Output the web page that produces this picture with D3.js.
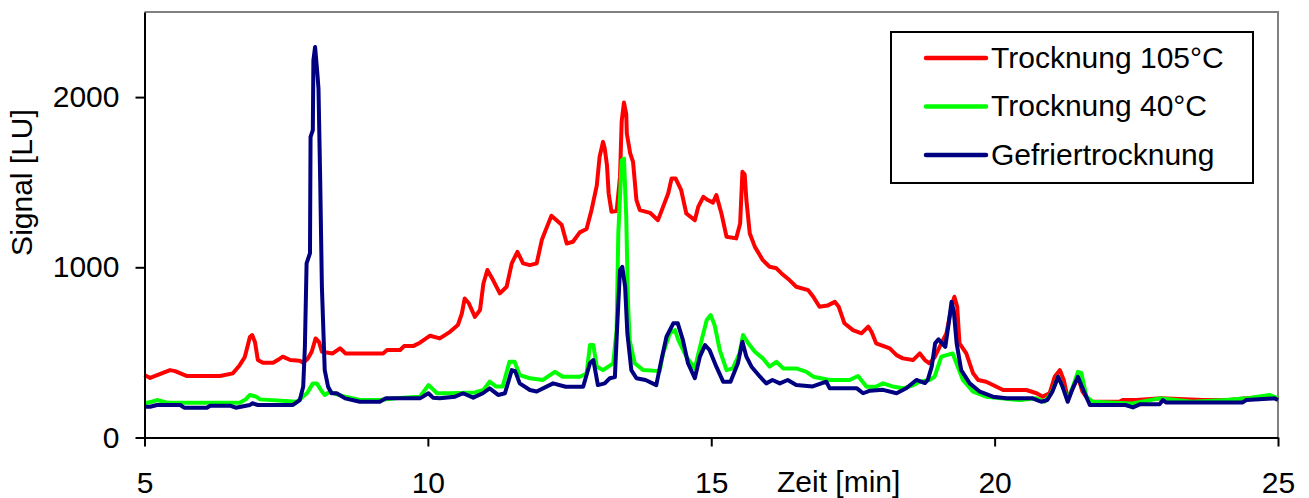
<html>
<head>
    <meta charset="UTF-8">
    <title>Signal</title>
    <style>
        body { margin: 0; background: #fff; }
        text { font-family: "Liberation Sans", Arial, sans-serif; }
    </style>
</head>
<body>
<script src="https://d3js.org/d3.v7.min.js"></script>
<div id="chart"></div>
<script>
    // series: [Zeit in min, Signal in LU]
    var trocknung105 = [
        [5.0,367],[5.10,350],[5.45,396],[5.54,390],[5.75,361],[6.33,361],[6.56,377],[6.68,425],
        [6.77,473],[6.86,590],[6.90,602],[6.95,560],[7.00,455],[7.09,439],[7.27,439],[7.35,455],
        [7.44,475],[7.57,455],[7.74,451],[7.80,439],[7.88,463],[7.95,504],[8.02,582],[8.08,560],
        [8.13,504],[8.32,494],[8.45,524],[8.55,494],[9.21,494],[9.28,514],[9.51,514],[9.58,537],
        [9.74,537],[9.86,557],[10.04,598],[10.21,582],[10.39,621],[10.53,661],[10.60,729],[10.65,817],
        [10.72,790],[10.83,709],[10.92,749],[10.98,905],[11.05,984],[11.15,925],[11.27,847],[11.39,886],
        [11.48,1023],[11.58,1091],[11.68,1023],[11.80,1013],[11.92,1023],[12.01,1160],[12.08,1220],[12.18,1303],
        [12.26,1280],[12.36,1250],[12.45,1140],[12.56,1150],[12.68,1205],[12.80,1225],[12.89,1340],[12.98,1480],
        [13.03,1649],[13.09,1737],[13.12,1700],[13.16,1600],[13.19,1434],[13.24,1326],[13.33,1330],[13.39,1531],
        [13.42,1860],[13.46,1968],[13.50,1900],[13.51,1786],[13.57,1669],[13.62,1620],[13.68,1395],[13.74,1336],
        [13.92,1320],[14.06,1277],[14.15,1355],[14.24,1434],[14.30,1522],[14.37,1522],[14.47,1453],[14.56,1316],
        [14.71,1277],[14.77,1355],[14.86,1414],[14.94,1395],[15.03,1380],[15.09,1424],[15.18,1316],[15.27,1179],
        [15.44,1170],[15.51,1258],[15.55,1561],[15.59,1545],[15.62,1395],[15.68,1199],[15.77,1120],[15.91,1042],
        [16.03,1003],[16.15,994],[16.24,964],[16.38,925],[16.50,886],[16.71,866],[16.80,827],[16.91,768],
        [17.05,775],[17.18,797],[17.25,768],[17.35,671],[17.50,631],[17.65,612],[17.77,651],[17.83,620],
        [17.91,553],[18.15,524],[18.27,484],[18.38,465],[18.56,455],[18.68,494],[18.77,455],[18.85,436],
        [18.94,470],[19.06,553],[19.15,612],[19.24,768],[19.29,827],[19.34,768],[19.38,553],[19.50,494],
        [19.62,377],[19.71,338],[19.85,328],[19.97,308],[20.15,279],[20.56,279],[20.74,260],[20.85,240],
        [20.97,260],[21.06,357],[21.15,396],[21.22,338],[21.29,230],[21.38,290],[21.47,357],[21.55,270],
        [21.68,210],[22.20,210],[22.26,220],[22.50,220],[22.94,230],[23.67,220],[24.14,220],[24.44,230],
        [24.85,240],[25.0,230]
    ];
    var trocknung40 = [
        [5.0,201],[5.13,210],[5.22,220],[5.40,204],[6.68,204],[6.79,225],[6.86,250],[6.97,240],
        [7.04,224],[7.69,210],[7.87,261],[7.97,318],[8.04,318],[8.13,270],[8.18,250],[8.27,269],
        [8.38,255],[8.54,240],[8.80,220],[9.15,220],[9.42,231],[9.86,240],[10.01,308],[10.07,290],
        [10.16,260],[10.39,260],[10.83,265],[10.98,279],[11.09,328],[11.20,300],[11.32,300],[11.44,445],
        [11.53,445],[11.62,367],[11.80,348],[12.03,338],[12.24,386],[12.38,357],[12.68,357],[12.80,375],
        [12.86,543],[12.92,543],[12.98,416],[13.09,396],[13.27,436],[13.33,631],[13.36,1199],[13.42,1629],
        [13.46,1639],[13.50,1297],[13.53,807],[13.56,572],[13.65,436],[13.80,396],[14.09,390],[14.15,494],
        [14.27,612],[14.36,631],[14.42,572],[14.56,475],[14.71,406],[14.83,572],[14.92,690],[14.99,719],
        [15.06,660],[15.15,514],[15.27,396],[15.38,406],[15.50,494],[15.56,602],[15.64,560],[15.77,504],
        [15.91,465],[16.03,416],[16.15,445],[16.27,406],[16.50,406],[16.68,386],[16.80,357],[17.09,338],
        [17.44,338],[17.59,361],[17.74,298],[17.90,298],[18.03,318],[18.20,300],[18.38,289],[18.55,305],
        [18.68,328],[18.85,338],[18.94,357],[19.06,475],[19.26,494],[19.35,416],[19.44,338],[19.62,269],
        [19.85,240],[20.44,220],[20.74,230],[20.88,210],[21.00,260],[21.12,357],[21.20,298],[21.29,220],
        [21.38,298],[21.47,386],[21.53,380],[21.62,240],[21.73,210],[22.43,200],[22.91,230],[23.49,210],
        [24.07,220],[24.44,230],[24.85,250],[25.0,230]
    ];
    var gefriertrocknung = [
        [5.0,181],[5.10,181],[5.22,191],[5.63,191],[5.70,175],[6.10,175],[6.16,187],[6.51,187],
        [6.61,175],[6.86,191],[6.90,201],[7.00,191],[7.62,191],[7.74,220],[7.80,298],[7.83,533],
        [7.86,1023],[7.92,1083],[7.93,1766],[7.97,1806],[7.98,2217],[8.01,2295],[8.05,2139],[8.07,2050],
        [8.10,1512],[8.13,886],[8.18,396],[8.24,298],[8.30,260],[8.39,260],[8.54,230],[8.80,210],
        [9.15,210],[9.26,230],[9.86,230],[10.01,260],[10.09,234],[10.21,230],[10.48,240],[10.62,260],
        [10.80,234],[10.97,260],[11.09,289],[11.24,250],[11.36,260],[11.48,396],[11.54,390],[11.62,318],
        [11.80,279],[11.92,270],[12.21,318],[12.43,298],[12.74,298],[12.86,436],[12.92,455],[13.00,308],
        [13.12,318],[13.21,348],[13.30,355],[13.34,651],[13.39,984],[13.43,1003],[13.48,886],[13.52,612],
        [13.59,396],[13.68,348],[13.84,338],[14.03,308],[14.12,455],[14.21,592],[14.33,671],[14.41,671],
        [14.50,572],[14.59,436],[14.71,348],[14.80,475],[14.89,543],[14.97,514],[15.09,416],[15.21,328],
        [15.34,328],[15.47,436],[15.55,563],[15.62,475],[15.71,416],[15.86,357],[15.97,318],[16.08,338],
        [16.21,318],[16.35,338],[16.50,308],[16.79,300],[17.03,328],[17.09,289],[17.57,289],[17.68,260],
        [17.80,275],[18.03,280],[18.27,260],[18.44,289],[18.62,338],[18.77,320],[18.82,338],[18.89,416],
        [18.95,553],[19.01,577],[19.13,533],[19.19,671],[19.24,797],[19.28,740],[19.33,553],[19.41,396],
        [19.56,318],[19.74,269],[19.97,240],[20.21,230],[20.67,230],[20.82,210],[20.93,220],[21.02,270],
        [21.12,357],[21.20,298],[21.29,210],[21.38,290],[21.47,357],[21.55,290],[21.68,191],[22.31,191],
        [22.44,177],[22.56,195],[22.91,195],[22.97,220],[23.03,205],[24.37,205],[24.44,220],[24.94,230],
        [25.0,220]
    ];

    var seriesNames = ["Trocknung 105°C", "Trocknung 40°C", "Gefriertrocknung"];
    var seriesColors = ["#ff0000", "#00ff00", "#000080"];
    var seriesData = [trocknung105, trocknung40, gefriertrocknung];

    var xTicks = [5, 10, 15, 20, 25];
    var yTicks = [0, 1000, 2000];

    var width = 1309, height = 498;
    var plot = {left: 144.5, right: 1278, top: 12, bottom: 437.5};

    var svg = d3.select("#chart")
        .append("svg")
        .attr("width", width)
        .attr("height", height)
        .style("display", "block");

    var x = d3.scaleLinear().domain([5, 25]).range([plot.left, plot.right]);
    var y = d3.scaleLinear().domain([0, 2500]).range([plot.bottom, plot.top]);

    // grey frame top and right
    svg.append("path")
        .attr("d", `M${plot.left},${plot.top}H${plot.right}V${plot.bottom}`)
        .attr("fill", "none")
        .attr("stroke", "#808080")
        .attr("stroke-width", 2);

    // lines
    var line = d3.line()
        .x(function(d) { return x(d[0]); })
        .y(function(d) { return y(d[1]); });

    seriesData.forEach(function(s, i) {
        svg.append("path")
            .datum(s)
            .attr("d", line)
            .attr("fill", "none")
            .attr("stroke", seriesColors[i])
            .attr("stroke-width", 4)
            .attr("stroke-linejoin", "round");
    });

    // axes
    var yAxis = svg.append("g")
        .attr("transform", `translate(${plot.left},0)`)
        .call(d3.axisLeft(y).tickValues(yTicks).tickFormat(d3.format("d"))
            .tickSize(9).tickSizeOuter(0).tickPadding(16));
    var xAxis = svg.append("g")
        .attr("transform", `translate(0,${plot.bottom})`)
        .call(d3.axisBottom(x).tickValues(xTicks).tickFormat(d3.format("d"))
            .tickSize(9).tickSizeOuter(0).tickPadding(25));

    [xAxis, yAxis].forEach(function(a) {
        a.select(".domain").attr("stroke", "#000").attr("stroke-width", 2);
        a.selectAll(".tick line").attr("stroke", "#000").attr("stroke-width", 2);
        a.selectAll(".tick text")
            .attr("fill", "#000")
            .style("font-size", "30px")
            .style("font-family", "'Liberation Sans', Arial, sans-serif");
    });

    svg.append("text")
        .attr("x", 777)
        .attr("y", 492)
        .style("font-size", "30px")
        .text("Zeit [min]");

    svg.append("text")
        .attr("transform", "translate(32,182.5) rotate(-90)")
        .attr("text-anchor", "middle")
        .style("font-size", "30px")
        .text("Signal [LU]");

    // legend
    var legend = svg.append("g");
    legend.append("rect")
        .attr("x", 891).attr("y", 32)
        .attr("width", 362).attr("height", 151)
        .attr("fill", "#fff")
        .attr("stroke", "#000")
        .attr("stroke-width", 2);

    var rowY = d3.scalePoint().domain(seriesNames).range([58, 155]);
    seriesNames.forEach(function(name, i) {
        legend.append("line")
            .attr("x1", 926).attr("x2", 986)
            .attr("y1", rowY(name)).attr("y2", rowY(name))
            .attr("stroke", seriesColors[i])
            .attr("stroke-width", 4.5)
            .attr("stroke-linecap", "round");
        legend.append("text")
            .attr("x", 991)
            .attr("y", rowY(name) + 9.5)
            .style("font-size", "30px")
            .text(name);
    });
</script>
</body>
</html>
